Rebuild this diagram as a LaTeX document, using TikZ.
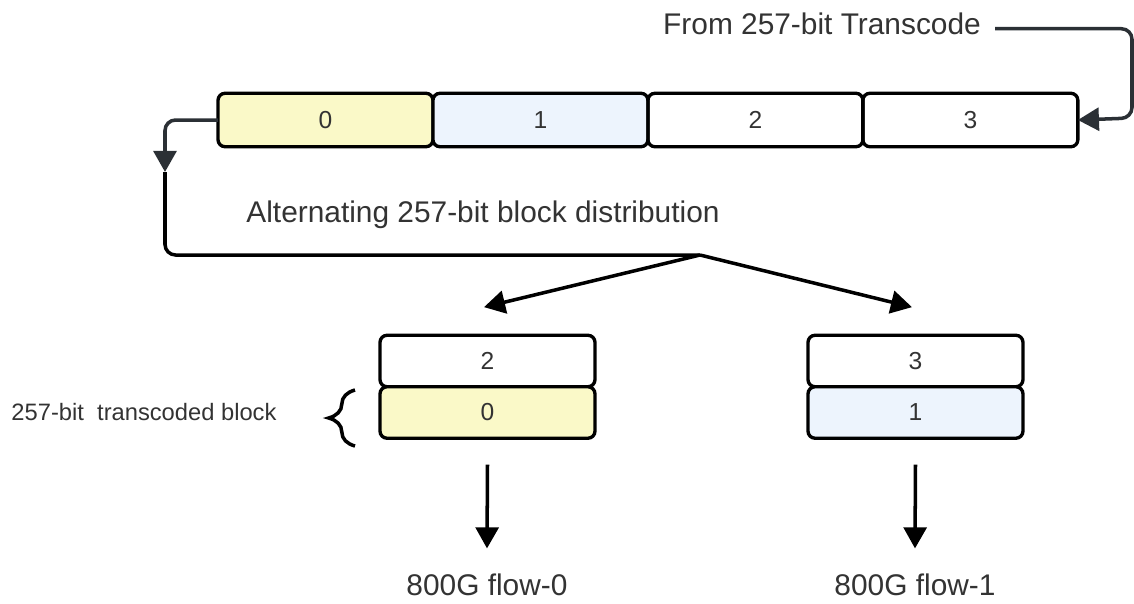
\documentclass[tikz,border=0pt]{standalone}
\usepackage{fontspec}
\setmainfont{Liberation Sans}
\usetikzlibrary{arrows.meta,positioning,decorations.pathreplacing}
\definecolor{txt}{HTML}{333333}
\definecolor{wire}{HTML}{2B3035}
\definecolor{yel}{HTML}{FAF9C8}
\definecolor{blu}{HTML}{EDF4FD}
\begin{document}
\begin{tikzpicture}[x=0.02cm,y=-0.02cm,>={Triangle[length=12pt,width=13pt]},
    blk/.style={draw,line width=1.9pt,rounded corners=4pt,minimum width=4.3cm,minimum height=1.07cm,
        outer sep=0pt,inner sep=0pt,text=txt,font=\fontsize{14}{16}\selectfont},
    lbl/.style={text=txt,font=\fontsize{17}{20}\selectfont,inner sep=0pt}]
\useasboundingbox (0,0) rectangle (1134,603);

% incoming 257-bit blocks
\node[blk,fill=yel] (t0) at (325.5,120) {0};
\node[blk,fill=blu,right=0pt of t0] (t1) {1};
\node[blk,right=0pt of t1] (t2) {2};
\node[blk,right=0pt of t2] (t3) {3};

\node[lbl,anchor=base] (src) at (822,34) {From 257-bit Transcode};
\draw[->,wire,line width=2pt,rounded corners=6pt] ([xshift=8pt,yshift=3pt]src.base east) -| (1132,118) -- (t3.east);

% distribution back down
\coordinate (drop) at (165,172);
\coordinate (split) at (700,255);
\draw[->,wire,line width=2pt,rounded corners=6pt] (t0.west) -| (drop);
\draw[line width=2pt,rounded corners=6pt] (drop) |- (split);
\node[lbl,anchor=base] (alt) at (483,222) {Alternating 257-bit block distribution};

% two 800G flows
\node[blk,minimum height=1.03cm] (l2) at (487.5,361) {2};
\node[blk,fill=yel,minimum height=1.03cm,below=0pt of l2] (l0) {0};
\node[blk,minimum height=1.03cm] (r3) at (915.5,361) {3};
\node[blk,fill=blu,minimum height=1.03cm,below=0pt of r3] (r1) {1};

\draw[->,line width=2pt] (split) -- ([xshift=-2pt,yshift=16pt]l2.north);
\draw[->,line width=2pt] (split) -- ([xshift=-2pt,yshift=16pt]r3.north);

\node[lbl,anchor=base] (f0) at (487,595) {800G flow-0};
\node[lbl,anchor=base] (f1) at (915,595) {800G flow-1};
\draw[->,line width=2pt] ([yshift=-15pt]l0.south) -- ([yshift=14pt]f0.north);
\draw[->,line width=2pt] ([yshift=-15pt]r1.south) -- ([yshift=14pt]f1.north);

\draw[line width=2pt,decorate,decoration={brace,amplitude=15pt}] (355,446) -- (355,390);
\node[text=txt,font=\fontsize{13.5}{16}\selectfont,inner sep=0pt] (tb) at (144,412) {257-bit\ \ transcoded block};

\end{tikzpicture}
\end{document}
